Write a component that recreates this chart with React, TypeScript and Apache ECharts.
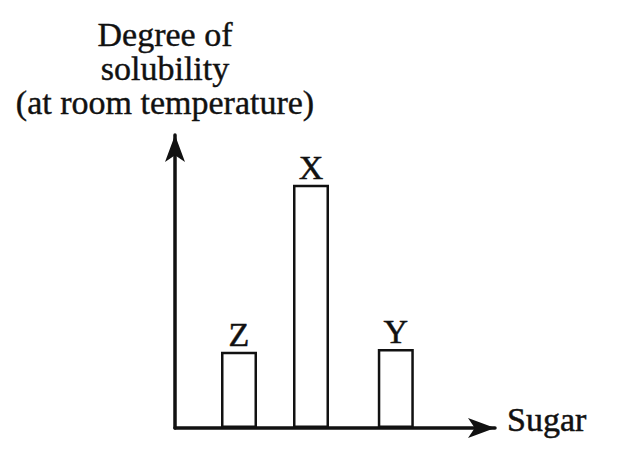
import React, { useEffect, useRef } from "react";
import * as echarts from "echarts";

const categories = ["Z", "X", "Y"];
const sugarPositions = [20, 42.5, 69];
const solubility = [26, 83, 27];

const yTitle = "Degree of\nsolubility\n(at room temperature)";
const xTitle = "Sugar";

const FONT = "Liberation Serif";
const INK = "#111";

export default function App() {
  const ref = useRef<HTMLDivElement>(null);
  useEffect(() => {
    if (!ref.current) return;
    const chart = echarts.init(ref.current, undefined, { renderer: "svg" });
    const data = categories.map((c, i) => ({
      name: c,
      value: [sugarPositions[i], solubility[i]],
    }));
    chart.setOption({
      animation: false,
      backgroundColor: "#ffffff",
      textStyle: { fontFamily: FONT },
      grid: { left: 175, right: 129, top: 135, bottom: 33, containLabel: false },
      xAxis: {
        type: "value",
        min: 0,
        max: 100,
        name: xTitle,
        nameLocation: "end",
        nameGap: 12,
        nameTextStyle: {
          fontFamily: FONT,
          fontSize: 34,
          color: INK,
          textBorderColor: INK,
          textBorderWidth: 0.5,
          verticalAlign: "bottom",
          lineHeight: 17,
        },
        axisLine: {
          show: true,
          symbol: ["none", "arrow"],
          symbolSize: [15, 27],
          lineStyle: { color: INK, width: 3.5 },
        },
        axisTick: { show: false },
        axisLabel: { show: false },
        splitLine: { show: false },
      },
      yAxis: {
        type: "value",
        min: 0,
        max: 100,
        name: yTitle,
        nameLocation: "end",
        nameGap: 16,
        nameTextStyle: {
          fontFamily: FONT,
          fontSize: 34,
          lineHeight: 34,
          color: INK,
          textBorderColor: INK,
          textBorderWidth: 0.4,
          align: "center",
          padding: [0, 20, 0, 0],
        },
        axisLine: {
          show: true,
          symbol: ["none", "arrow"],
          symbolSize: [15, 27],
          lineStyle: { color: INK, width: 3.5 },
        },
        axisTick: { show: false },
        axisLabel: { show: false },
        splitLine: { show: false },
      },
      series: [
        {
          type: "bar",
          data,
          barWidth: 36,
          itemStyle: { color: "#ffffff", borderColor: INK, borderWidth: 2.5 },
          label: {
            show: true,
            position: "top",
            distance: 0,
            formatter: (p: any) => p.name,
            fontFamily: FONT,
            fontSize: 34,
            color: INK,
            textBorderColor: INK,
            textBorderWidth: 0.5,
          },
        },
      ],
    });
    return () => chart.dispose();
  }, []);
  return (
    <div
      ref={ref}
      style={{ position: "fixed", left: 0, top: 0, width: 624, height: 461 }}
    />
  );
}
